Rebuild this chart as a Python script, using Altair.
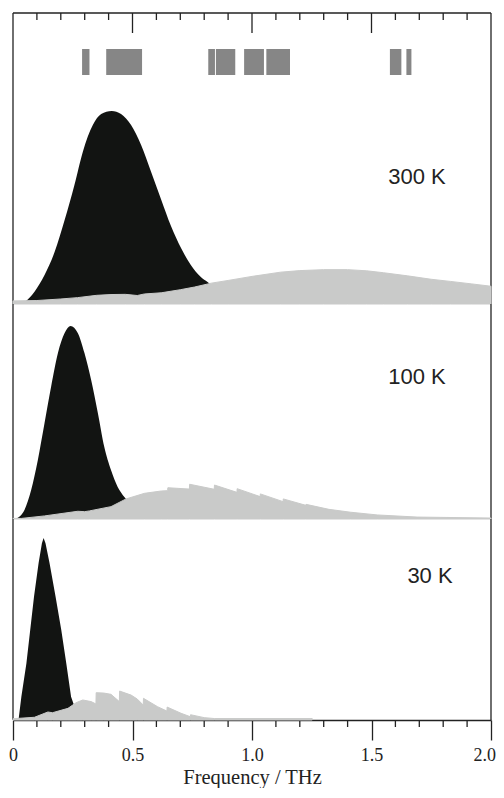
import altair as alt
import pandas as pd

# ---------------- data ----------------
temps = ["300 K", "100 K", "30 K"]

# 300 K : black distribution and grey distribution (intensity, black peak = 1)
b300_x = [0.035, 0.048, 0.090, 0.132, 0.174, 0.216, 0.257, 0.292, 0.334, 0.369, 0.413,
          0.452, 0.494, 0.536, 0.578, 0.619, 0.661, 0.703, 0.744, 0.786, 0.814, 0.860,
          0.920, 1.000, 1.060]
b300_y = [0.0, 0.010, 0.064, 0.150, 0.269, 0.435, 0.617, 0.788, 0.927, 0.984, 1.0,
          0.984, 0.927, 0.824, 0.684, 0.544, 0.404, 0.290, 0.202, 0.140, 0.114, 0.070,
          0.035, 0.010, 0.0]
g300_x = [0.0, 0.10, 0.20, 0.27, 0.35, 0.41, 0.47, 0.52, 0.55, 0.62, 0.70, 0.76, 0.83,
          0.90, 1.00, 1.12, 1.20, 1.30, 1.40, 1.48, 1.55, 1.65, 1.75, 1.83, 1.92, 2.0]
g300_y = [0.016, 0.018, 0.026, 0.033, 0.045, 0.049, 0.050, 0.044, 0.052, 0.058, 0.074,
          0.088, 0.108, 0.122, 0.143, 0.165, 0.173, 0.178, 0.178, 0.172, 0.162, 0.146,
          0.128, 0.117, 0.104, 0.092]

# 100 K
b100_x = [0.010, 0.030, 0.048, 0.076, 0.104, 0.132, 0.160, 0.188, 0.216, 0.241, 0.271,
          0.299, 0.327, 0.355, 0.382, 0.410, 0.438, 0.466, 0.500, 0.550, 0.600, 0.650]
b100_y = [0.0, 0.015, 0.047, 0.150, 0.306, 0.497, 0.689, 0.860, 0.964, 1.0, 0.964,
          0.860, 0.720, 0.549, 0.373, 0.254, 0.166, 0.114, 0.070, 0.030, 0.010, 0.0]
g100_x = [0.0, 0.035, 0.132, 0.271, 0.300, 0.320, 0.410, 0.473, 0.550, 0.620, 0.647,
          0.648, 0.738, 0.739, 0.842, 0.843, 0.937, 0.938, 1.034, 1.035, 1.130, 1.131,
          1.225, 1.226, 1.322, 1.413, 1.524, 1.691, 2.0]
g100_y = [0.003, 0.003, 0.016, 0.040, 0.038, 0.042, 0.064, 0.104, 0.133, 0.145, 0.147,
          0.162, 0.155, 0.180, 0.154, 0.176, 0.138, 0.157, 0.116, 0.130, 0.090, 0.104,
          0.071, 0.076, 0.050, 0.035, 0.021, 0.010, 0.005]

# 30 K
b30_x = [0.015, 0.024, 0.035, 0.056, 0.072, 0.088, 0.107, 0.121, 0.128, 0.136, 0.153,
         0.178, 0.202, 0.223, 0.243, 0.255, 0.268, 0.280]
b30_y = [0.0, 0.009, 0.128, 0.311, 0.495, 0.678, 0.861, 0.971, 1.0, 0.971, 0.861,
         0.678, 0.495, 0.311, 0.128, 0.082, 0.030, 0.0]
g30_x = [0.0, 0.090, 0.146, 0.165, 0.230, 0.264, 0.292, 0.327, 0.347, 0.348, 0.380,
         0.410, 0.445, 0.446, 0.494, 0.520, 0.545, 0.546, 0.605, 0.644, 0.645, 0.703,
         0.742, 0.743, 0.800, 0.842, 1.000, 1.252]
g30_y = [0.007, 0.015, 0.044, 0.040, 0.064, 0.095, 0.110, 0.101, 0.088, 0.150, 0.148,
         0.141, 0.101, 0.159, 0.137, 0.115, 0.082, 0.119, 0.073, 0.049, 0.071, 0.037,
         0.018, 0.029, 0.013, 0.008, 0.008, 0.008]

# grey bars at the top (THz ranges)
bar_start = [0.289, 0.390, 0.817, 0.849, 0.967, 1.060, 1.577, 1.646]
bar_end = [0.320, 0.540, 0.845, 0.930, 1.050, 1.159, 1.625, 1.667]

# ticks
major_ticks = [0.0, 0.5, 1.0, 1.5, 2.0]
inner_major = [0.5, 1.0, 1.5]
minor_ticks = [0.1, 0.2, 0.3, 0.4, 0.6, 0.7, 0.8, 0.9, 1.1, 1.2, 1.3, 1.4,
               1.6, 1.7, 1.8, 1.9]

# ---------------- styling ----------------
W = 478
H1, H2, H3 = 291, 215, 201
INK = "#222222"
BLACK = "#121412"
GRAY = "#c9cac9"
BAR = "#868686"
LW = 1.3

xscale = alt.Scale(domain=[0, 2], nice=False, zero=False)

xaxis3 = alt.Axis(
    values=major_ticks, tickSize=20, tickColor=INK, tickWidth=LW,
    domainColor=INK, domainWidth=LW, grid=False,
    labelFont="Liberation Serif", labelFontSize=18, labelColor=INK,
    labelPadding=6, labelFlush=True, labelFlushOffset=4.5, labelOverlap=False,
    labelExpr="datum.value == 0 ? '0' : format(datum.value, '.1f')",
    title="Frequency / THz", titleFont="Liberation Serif", titleFontSize=20.5,
    titleFontWeight="normal", titleColor=INK, titleBaseline="alphabetic",
    titleY=63,
)

one = alt.Data(values=[{"a": 0}])


def panel(bx, by, gx, gy, label, height, ymax, lx, ly, interp, top=False, bottom=False):
    yscale = alt.Scale(domain=[0, ymax], nice=False, zero=False)
    xax = xaxis3 if bottom else None
    X = lambda f: alt.X(f, scale=xscale, axis=xax)

    layers = []
    # frame: left and right borders
    layers.append(alt.Chart(one).mark_rule(color=INK, strokeWidth=LW).encode(
        x=alt.value(0), y=alt.value(0), y2=alt.value(height)))
    layers.append(alt.Chart(one).mark_rule(color=INK, strokeWidth=LW).encode(
        x=alt.value(W), y=alt.value(0), y2=alt.value(height)))

    if top:
        layers.append(alt.Chart(one).mark_rule(color=INK, strokeWidth=LW).encode(
            x=alt.value(0), x2=alt.value(W), y=alt.value(0)))
        layers.append(alt.Chart(pd.DataFrame({"t": minor_ticks})).mark_rule(
            color=INK, strokeWidth=LW).encode(x=X("t:Q"), y=alt.value(0), y2=alt.value(7)))
        layers.append(alt.Chart(pd.DataFrame({"t": inner_major})).mark_rule(
            color=INK, strokeWidth=LW).encode(x=X("t:Q"), y=alt.value(0), y2=alt.value(20)))
        layers.append(alt.Chart(pd.DataFrame({"s": bar_start, "e": bar_end})).mark_rect(
            color=BAR).encode(x=X("s:Q"), x2="e:Q", y=alt.value(36), y2=alt.value(62)))

    if bottom:
        layers.append(alt.Chart(pd.DataFrame({"t": minor_ticks})).mark_rule(
            color=INK, strokeWidth=LW).encode(x=X("t:Q"), y=alt.value(height),
                                              y2=alt.value(height + 7)))

    layers.append(alt.Chart(pd.DataFrame({"f": bx, "v": by})).mark_area(
        color=BLACK, interpolate=interp).encode(
        x=X("f:Q"), y=alt.Y("v:Q", scale=yscale, axis=None)))
    layers.append(alt.Chart(pd.DataFrame({"f": gx, "v": gy})).mark_area(
        color=GRAY, stroke=GRAY, strokeWidth=1, interpolate="linear").encode(
        x=X("f:Q"), y=alt.Y("v:Q", scale=yscale, axis=None)))
    layers.append(alt.Chart(alt.Data(values=[{"label": label}])).mark_text(
        font="Liberation Sans", fontSize=22, color=INK, align="center",
        baseline="middle").encode(x=alt.value(lx), y=alt.value(ly), text="label:N"))

    return alt.layer(*layers).properties(width=W, height=height)


p1 = panel(b300_x, b300_y, g300_x, g300_y, temps[0], H1, H1 / 193, 404, 164,
           "monotone", top=True)
p2 = panel(b100_x, b100_y, g100_x, g100_y, temps[1], H2, H2 / 193, 404, 73,
           "monotone")
p3 = panel(b30_x, b30_y, g30_x, g30_y, temps[2], H3, H3 / 182, 417, 57,
           "linear", bottom=True)

chart = alt.vconcat(p1, p2, p3, spacing=0, bounds="flush").properties(
    padding={"left": 0, "top": 4, "right": 0, "bottom": 0},
).configure_view(stroke=None)

chart.save("out.html", embed_options={"renderer": "svg", "actions": False})
